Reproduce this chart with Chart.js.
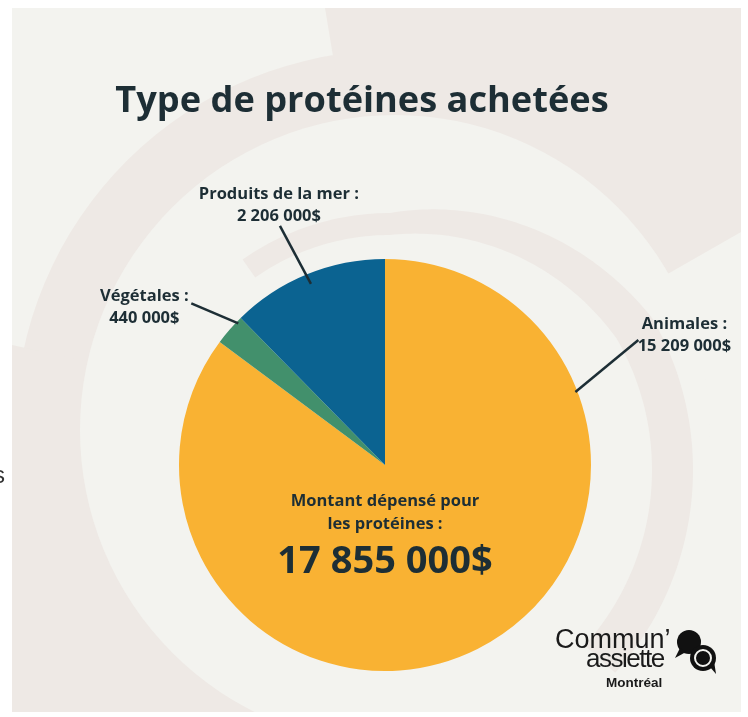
<!DOCTYPE html>
<html>
<head>
<meta charset="utf-8">
<script src="https://cdn.jsdelivr.net/npm/chart.js@4.4.1/dist/chart.umd.min.js"></script>
<style>
  html, body { margin: 0; padding: 0; background: #fff; }
  #wrap { position: relative; width: 748px; height: 717px; overflow: hidden; font-family: "Open Sans", sans-serif; color: #1d2e35; }
  #chart { position: absolute; left: 0; top: 0; }
  .txt { position: absolute; white-space: nowrap; text-align: center; font-weight: 700; }
  .lbl { position: absolute; white-space: nowrap; text-align: center; font-weight: 700; font-size: 16.5px; line-height: 22px; transform: translateX(-50%); }
  .logo { position: absolute; font-family: "Liberation Sans", Arial, sans-serif; color: #1a1a1a; white-space: nowrap; }
</style>
</head>
<body>
<div id="wrap">
  <canvas id="chart" width="748" height="717"></canvas>
  <div class="txt" style="left:62px;width:600px;top:74px;font-size:36.2px;line-height:48px;">Type de protéines achetées</div>
  <div class="txt" style="left:235px;width:300px;top:488px;font-size:16.5px;line-height:23px;">Montant dépensé pour<br>les protéines :</div>
  <div class="txt" id="total" style="left:235px;width:300px;top:534px;font-size:38px;line-height:48px;"></div>
  <div class="logo" style="left:555px;top:624px;font-size:27px;line-height:30px;">Commun’</div>
  <div class="logo" style="left:586px;top:643px;font-size:26px;line-height:30px;letter-spacing:-1.5px;">assiette</div>
  <div class="logo" style="left:606px;top:674px;font-size:13.5px;line-height:18px;font-weight:700;">Montréal</div>
  <div class="logo" style="left:-7px;top:460px;font-size:24px;line-height:30px;color:#333;">s</div>
  <div class="logo" style="left:-4px;top:586px;font-size:24px;line-height:30px;color:#bbb;">i</div>
</div>
<script>
// données
const categories = ['Animales', 'Végétales', 'Produits de la mer'];
const amounts = [15209000, 440000, 2206000];
const sliceColors = ['#f9b233', '#42906c', '#0b6391'];

// position des étiquettes (angle depuis le haut, décalages en px)
const labelAngles = [69, 314, null];
const labelStart = [0.99, 0.99, 0.95];
const lineEnd = [[63, -52], [-47, -20], [-31, -58]];
const textShift = [[46, -28], [-47, -19], [-1, -44]];

const ink = '#1d2e35';
const light = '#f3f3ef';
const pink = '#eee9e5';

const fmt = n => String(n).replace(/\B(?=(\d{3})+(?!\d))/g, ' ') + '$';
const rad = d => d * Math.PI / 180;

document.getElementById('total').textContent = fmt(amounts.reduce((a, b) => a + b, 0));

function drawDecor(ctx) {
  const L = 12, T = 8, R = 741, B = 712;
  ctx.save();
  ctx.fillStyle = '#fff';
  ctx.fillRect(0, 0, 748, 717);
  ctx.beginPath();
  ctx.rect(L, T, R - L, B - T);
  ctx.clip();
  ctx.fillStyle = light;
  ctx.fillRect(L, T, R - L, B - T);

  // grand anneau (haut et gauche)
  const cx = 395, cy = 430;
  ctx.fillStyle = pink;
  ctx.beginPath();
  ctx.moveTo(cx, cy);
  ctx.arc(cx, cy, 380, rad(110), rad(330));
  ctx.closePath();
  ctx.fill();
  ctx.beginPath();
  ctx.moveTo(325, T); ctx.lineTo(R, T); ctx.lineTo(R, 232); ctx.lineTo(cx, cy);
  ctx.closePath();
  ctx.fill();
  ctx.beginPath();
  ctx.moveTo(L, 345); ctx.lineTo(L, B); ctx.lineTo(200, B); ctx.lineTo(cx, cy);
  ctx.closePath();
  ctx.fill();
  ctx.fillStyle = light;
  ctx.beginPath();
  ctx.arc(cx, cy, 315, 0, Math.PI * 2);
  ctx.fill();

  // anneau intérieur, plus épais vers la droite
  const ix = 390, iy = 470, a0 = -125, a1 = 42;
  ctx.fillStyle = pink;
  ctx.beginPath();
  const inner = [];
  for (let a = a0; a <= a1; a += 1) {
    const t = Math.min(1, Math.max(0, (a + 90) / 60));
    const ro = 257 + 46 * t;
    const ri = 235 + 27 * t;
    const x = ix + ro * Math.cos(rad(a)), y = iy + ro * Math.sin(rad(a));
    if (a === a0) ctx.moveTo(x, y); else ctx.lineTo(x, y);
    inner.push([ix + ri * Math.cos(rad(a)), iy + ri * Math.sin(rad(a))]);
  }
  for (let k = inner.length - 1; k >= 0; k--) ctx.lineTo(inner[k][0], inner[k][1]);
  ctx.closePath();
  ctx.fill();
  ctx.restore();
}

function drawLogo(ctx) {
  ctx.save();
  ctx.fillStyle = '#111';
  ctx.beginPath();
  ctx.arc(689, 642, 12, 0, Math.PI * 2);
  ctx.fill();
  ctx.beginPath();
  ctx.moveTo(680, 648); ctx.lineTo(675, 658); ctx.lineTo(686, 652);
  ctx.fill();
  ctx.beginPath();
  ctx.arc(703, 658, 13, 0, Math.PI * 2);
  ctx.fill();
  ctx.beginPath();
  ctx.moveTo(710, 667); ctx.lineTo(716, 674); ctx.lineTo(714, 661);
  ctx.fill();
  ctx.strokeStyle = '#f3f3ef';
  ctx.lineWidth = 2;
  ctx.beginPath();
  ctx.arc(703, 658, 8, 0, Math.PI * 2);
  ctx.stroke();
  ctx.restore();
}

const labelDivs = [];
const decorPlugin = {
  id: 'decor',
  beforeDraw(chart) {
    drawDecor(chart.ctx);
  },
  afterDraw(chart) {
    const ctx = chart.ctx;
    const meta = chart.getDatasetMeta(0);
    drawLogo(ctx);
    meta.data.forEach((arc, i) => {
      const mid = (arc.startAngle + arc.endAngle) / 2;
      const ang = labelAngles[i] === null ? mid : rad(labelAngles[i] - 90);
      const r = arc.outerRadius * labelStart[i];
      const x0 = arc.x + r * Math.cos(ang), y0 = arc.y + r * Math.sin(ang);
      const x1 = x0 + lineEnd[i][0], y1 = y0 + lineEnd[i][1];
      ctx.save();
      ctx.strokeStyle = ink;
      ctx.lineWidth = 2.5;
      ctx.beginPath();
      ctx.moveTo(x0, y0);
      ctx.lineTo(x1, y1);
      ctx.stroke();
      ctx.restore();
      let d = labelDivs[i];
      if (!d) {
        d = document.createElement('div');
        d.className = 'lbl';
        d.innerHTML = categories[i] + ' :<br>' + fmt(amounts[i]);
        document.getElementById('wrap').appendChild(d);
        labelDivs[i] = d;
      }
      d.style.left = (x1 + textShift[i][0]) + 'px';
      d.style.top = (y1 + textShift[i][1]) + 'px';
    });
  }
};

new Chart(document.getElementById('chart'), {
  type: 'pie',
  data: {
    labels: categories,
    datasets: [{
      data: amounts,
      backgroundColor: sliceColors,
      borderWidth: 0
    }]
  },
  options: {
    responsive: false,
    animation: false,
    layout: { padding: { left: 179, right: 157, top: 259, bottom: 46 } },
    plugins: {
      legend: { display: false },
      tooltip: { enabled: false }
    }
  },
  plugins: [decorPlugin]
});
</script>
</body>
</html>
